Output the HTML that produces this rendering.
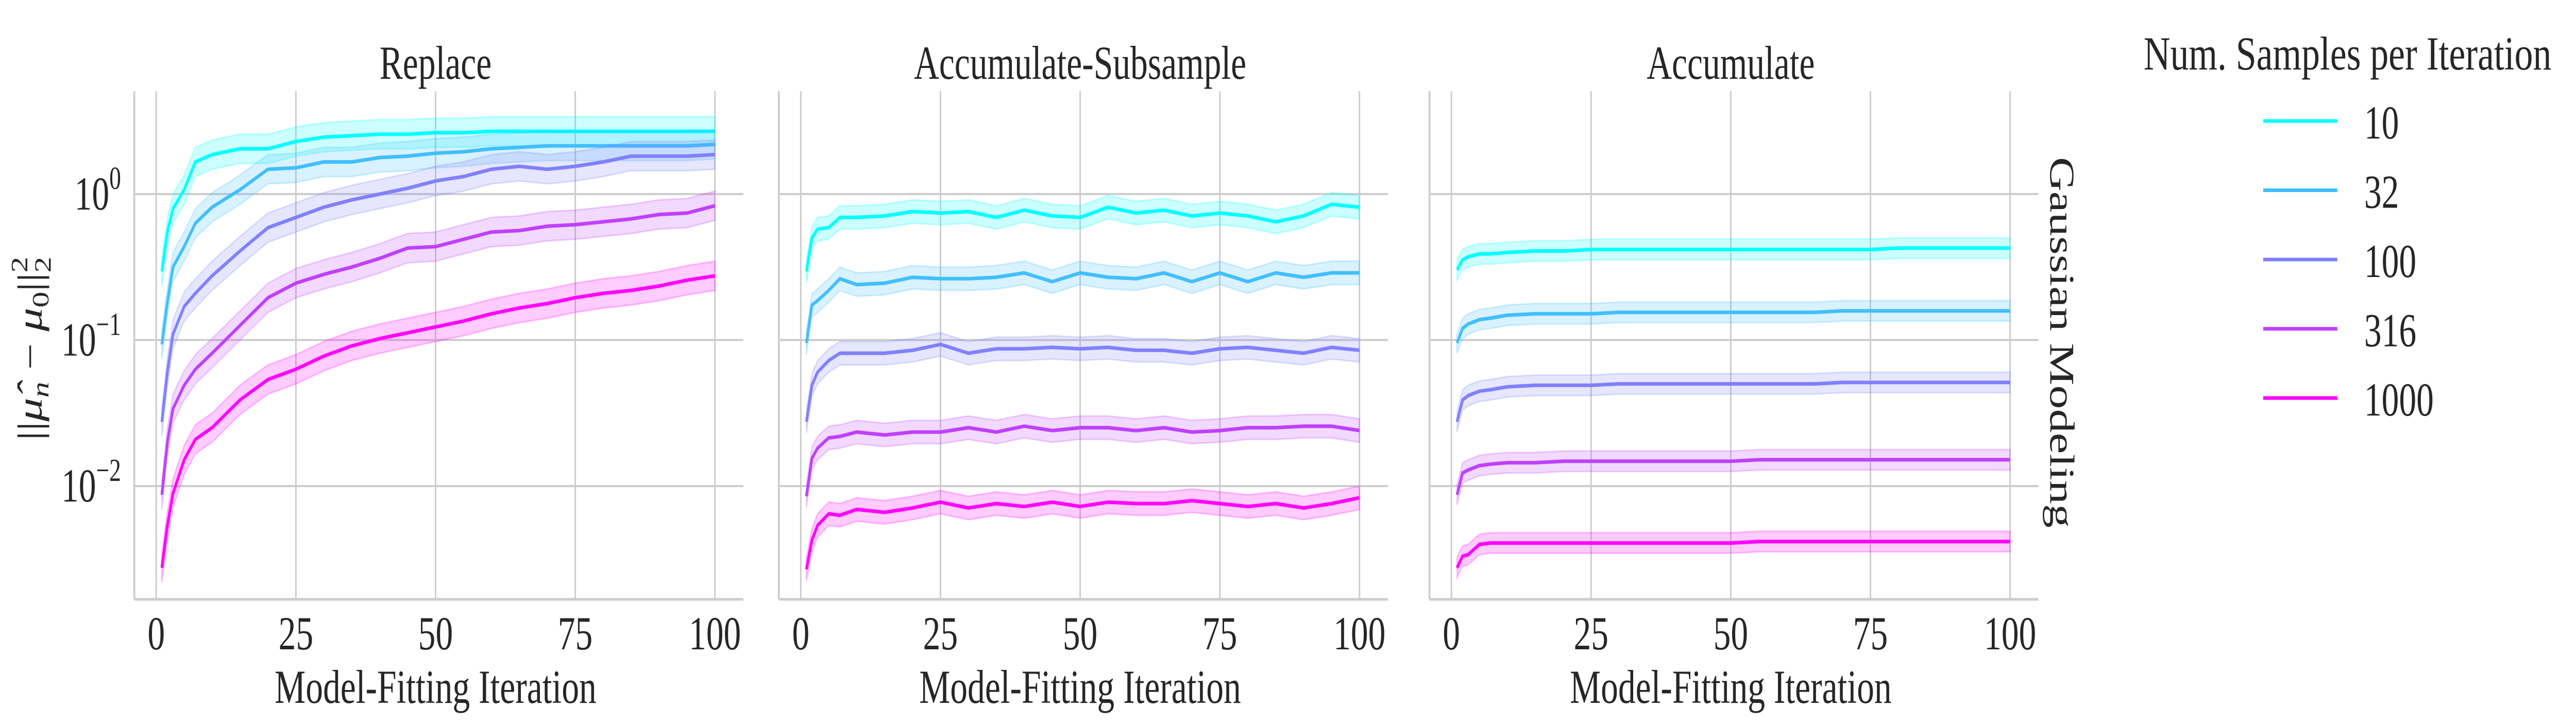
<!DOCTYPE html>
<html><head><meta charset="utf-8">
<style>
html,body{margin:0;padding:0;background:#fff;width:100%;height:100%;overflow:hidden;}
svg{display:block;font-family:"Liberation Serif",serif;width:100vw;height:100vh;}
</style></head>
<body>
<svg id="chart" viewBox="0 0 6810 1408" preserveAspectRatio="none" xmlns="http://www.w3.org/2000/svg" overflow="hidden">
<rect width="6810" height="1408" fill="#fff"/>
<g id="panels"></g>
<text transform="translate(110,677) rotate(-90)" text-anchor="middle" font-size="92" fill="#262626">||<tspan font-style="italic">μ̂</tspan><tspan font-style="italic" font-size="62" dy="18">n</tspan><tspan dy="-18"> − </tspan><tspan font-style="italic">μ</tspan><tspan font-size="62" dy="18">0</tspan><tspan dy="-18">||</tspan><tspan font-size="62" dy="-38">2</tspan><tspan font-size="62" dx="-31" dy="62">2</tspan></text>
<text transform="translate(5420,665) rotate(90)" text-anchor="middle" font-size="92" fill="#262626" textLength="720" lengthAdjust="spacingAndGlyphs">Gaussian Modeling</text>
<g id="legend">
<text x="6206" y="135" text-anchor="middle" font-size="92" fill="#262626" textLength="1078" lengthAdjust="spacingAndGlyphs">Num. Samples per Iteration</text>
</g>
</svg>
<script>
// ----- data (log10 of ||mu_hat - mu_0||^2) -----
const iterations = [1,2,3,5,7,10,15,20,25,30,35,40,45,50,55,60,65,70,75,80,85,90,95,100];
const sampleSizes = ["10","32","100","316","1000"];
const panelTitles = ["Replace","Accumulate-Subsample","Accumulate"];
const xTicks = [0,25,50,75,100];
const yTicksLog = [0,-1,-2];

const replace10   = [-0.53,-0.26,-0.10,0.03,0.22,0.27,0.31,0.31,0.36,0.39,0.40,0.41,0.41,0.42,0.42,0.43,0.43,0.43,0.43,0.43,0.43,0.43,0.43,0.43];
const replace32   = [-1.03,-0.74,-0.50,-0.36,-0.20,-0.09,0.03,0.17,0.18,0.22,0.22,0.25,0.26,0.28,0.29,0.31,0.32,0.33,0.33,0.33,0.33,0.33,0.33,0.34];
const replace100  = [-1.56,-1.22,-0.96,-0.77,-0.68,-0.56,-0.39,-0.23,-0.16,-0.09,-0.04,0.00,0.04,0.09,0.12,0.17,0.19,0.17,0.19,0.22,0.26,0.26,0.26,0.27];
const replace316  = [-2.06,-1.70,-1.47,-1.31,-1.20,-1.09,-0.90,-0.71,-0.61,-0.55,-0.50,-0.44,-0.37,-0.36,-0.31,-0.26,-0.25,-0.22,-0.21,-0.19,-0.17,-0.14,-0.13,-0.08];
const replace1000 = [-2.56,-2.27,-2.05,-1.82,-1.68,-1.60,-1.41,-1.27,-1.20,-1.11,-1.04,-0.99,-0.95,-0.91,-0.87,-0.82,-0.78,-0.75,-0.71,-0.68,-0.66,-0.63,-0.59,-0.56];

const subsample10   = [-0.53,-0.30,-0.24,-0.23,-0.16,-0.16,-0.15,-0.12,-0.13,-0.12,-0.16,-0.11,-0.15,-0.16,-0.09,-0.13,-0.11,-0.15,-0.13,-0.15,-0.19,-0.15,-0.07,-0.09];
const subsample32   = [-1.02,-0.76,-0.73,-0.66,-0.58,-0.62,-0.61,-0.57,-0.58,-0.58,-0.57,-0.54,-0.60,-0.54,-0.57,-0.58,-0.54,-0.60,-0.54,-0.60,-0.54,-0.57,-0.54,-0.54];
const subsample100  = [-1.56,-1.31,-1.22,-1.14,-1.09,-1.09,-1.09,-1.07,-1.03,-1.09,-1.06,-1.06,-1.05,-1.06,-1.05,-1.07,-1.07,-1.09,-1.06,-1.05,-1.07,-1.09,-1.05,-1.07];
const subsample316  = [-2.07,-1.81,-1.74,-1.67,-1.66,-1.63,-1.65,-1.63,-1.63,-1.60,-1.63,-1.59,-1.62,-1.60,-1.60,-1.62,-1.60,-1.63,-1.62,-1.60,-1.60,-1.59,-1.59,-1.62];
const subsample1000 = [-2.57,-2.37,-2.27,-2.19,-2.20,-2.16,-2.18,-2.15,-2.11,-2.15,-2.12,-2.14,-2.11,-2.14,-2.11,-2.12,-2.12,-2.10,-2.12,-2.14,-2.12,-2.15,-2.12,-2.08];

const accumulate10   = [-0.52,-0.45,-0.43,-0.41,-0.41,-0.40,-0.39,-0.39,-0.38,-0.38,-0.38,-0.38,-0.38,-0.38,-0.38,-0.38,-0.38,-0.38,-0.38,-0.37,-0.37,-0.37,-0.37,-0.37];
const accumulate32   = [-1.02,-0.92,-0.89,-0.86,-0.85,-0.83,-0.82,-0.82,-0.82,-0.81,-0.81,-0.81,-0.81,-0.81,-0.81,-0.81,-0.81,-0.80,-0.80,-0.80,-0.80,-0.80,-0.80,-0.80];
const accumulate100  = [-1.56,-1.41,-1.38,-1.35,-1.34,-1.32,-1.31,-1.31,-1.31,-1.30,-1.30,-1.30,-1.30,-1.30,-1.30,-1.30,-1.30,-1.29,-1.29,-1.29,-1.29,-1.29,-1.29,-1.29];
const accumulate316  = [-2.06,-1.91,-1.89,-1.86,-1.85,-1.84,-1.84,-1.83,-1.83,-1.83,-1.83,-1.83,-1.83,-1.83,-1.82,-1.82,-1.82,-1.82,-1.82,-1.82,-1.82,-1.82,-1.82,-1.82];
const accumulate1000 = [-2.56,-2.48,-2.47,-2.40,-2.39,-2.39,-2.39,-2.39,-2.39,-2.39,-2.39,-2.39,-2.39,-2.39,-2.38,-2.38,-2.38,-2.38,-2.38,-2.38,-2.38,-2.38,-2.38,-2.38];

const bandHalfWidth = [0.10, 0.08, 0.07]; // log10 units of shaded interval per panel

// ----- layout -----
const NS = "http://www.w3.org/2000/svg";
const colors = ["#00ffff","#40bfff","#8080ff","#bf40ff","#ff00ff"];
const panelLeft = [355, 2059, 3779];
const panelW = 1610, axTop = 177, axBottom = 1164;
const logTop = 0.705, logBottom = -2.776;
const allSeries = [
  [replace10,replace32,replace100,replace316,replace1000],
  [subsample10,subsample32,subsample100,subsample316,subsample1000],
  [accumulate10,accumulate32,accumulate100,accumulate316,accumulate1000]
];
function xScale(p, it){ return panelLeft[p] + 58 + it * 14.77; }
function yScale(lg){ return axTop + (logTop - lg) / (logTop - logBottom) * (axBottom - axTop); }
function mk(tag, attrs, parent){
  const e = document.createElementNS(NS, tag);
  for (const k in attrs) e.setAttribute(k, attrs[k]);
  parent.appendChild(e); return e;
}
const root = document.getElementById("panels");
for (let p = 0; p < 3; p++){
  const g = mk("g", {}, root);
  
  
  const L = panelLeft[p], R = L + panelW;
  xTicks.forEach(t => {
    const gl = mk("line", {x1:xScale(p,t), x2:xScale(p,t), y1:axTop, y2:axBottom, stroke:"#cccccc", "stroke-width":4}, g);
    
    
    const tl = mk("text", {x:xScale(p,t), y:1261, "text-anchor":"middle", "font-size":92, fill:"#262626"}, g);
    tl.textContent = t;
    
    
  });
  yTicksLog.forEach(t => {
    const gl = mk("line", {x1:L, x2:R, y1:yScale(t), y2:yScale(t), stroke:"#cccccc", "stroke-width":4}, g);
    
    
    if (p === 0){
      const tl = mk("text", {x:320, y:yScale(t)+30, "text-anchor":"end", "font-size":92, fill:"#262626"}, g);
      tl.textContent = "10";
      const sup = mk("tspan", {"font-size":62, dy:-40}, tl);
      sup.textContent = t === 0 ? "0" : "−" + (-t);
      
      
    }
  });
  const ls = mk("line", {x1:L, x2:L, y1:axTop, y2:axBottom, stroke:"#cccccc", "stroke-width":5}, g);
  
  
  const bs = mk("line", {x1:L, x2:R, y1:axBottom, y2:axBottom, stroke:"#cccccc", "stroke-width":5}, g);
  
  
  const cx = xScale(p, 50);
  const tt = mk("text", {x:cx, y:153, "text-anchor":"middle", "font-size":92, fill:"#262626"}, g);
  tt.textContent = panelTitles[p];
  
  
  const xl = mk("text", {x:cx, y:1365, "text-anchor":"middle", "font-size":92, fill:"#262626"}, g);
  xl.textContent = "Model-Fitting Iteration";
  
  
  allSeries[p].forEach((vals, s) => {
    const hw = bandHalfWidth[p];
    const up = iterations.map((it,i) => xScale(p,it).toFixed(1)+","+yScale(vals[i]+hw).toFixed(1));
    const dn = iterations.map((it,i) => xScale(p,it).toFixed(1)+","+yScale(vals[i]-hw).toFixed(1)).reverse();
    const band = mk("polygon", {points: up.concat(dn).join(" "), fill:colors[s], "fill-opacity":0.2, stroke:colors[s], "stroke-opacity":0.25, "stroke-width":3}, g);
    
    
    const pts = iterations.map((it,i) => xScale(p,it).toFixed(1)+","+yScale(vals[i]).toFixed(1)).join(" ");
    const line = mk("polyline", {points:pts, fill:"none", stroke:colors[s], "stroke-width":7, "stroke-linejoin":"round"}, g);
    
    
  });
}
const lg = document.getElementById("legend");
sampleSizes.forEach((lab, s) => {
  const y = 235 + s * 134.5;
  const e = mk("g", {}, lg);
  
  
  mk("line", {x1:5983, x2:6179, y1:y, y2:y, stroke:colors[s], "stroke-width":7}, e);
  const t = mk("text", {x:6250, y:y+34, "font-size":92, fill:"#262626"}, e);
  t.textContent = lab;
});
</script>
</body></html>
